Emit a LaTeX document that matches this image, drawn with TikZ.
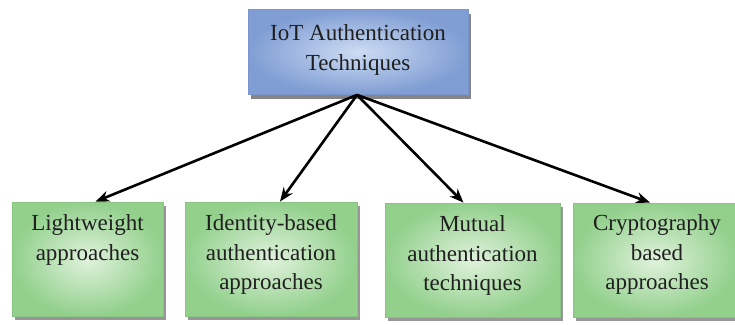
\documentclass[tikz,border=0pt]{standalone}
\usepackage{fontspec}
\setmainfont{Liberation Serif}
\usetikzlibrary{shadows,arrows.meta,calc}

\definecolor{topfill}{RGB}{205,220,242}
\definecolor{topedge}{RGB}{128,158,212}
\definecolor{topframe}{RGB}{120,150,205}
\definecolor{leaffill}{RGB}{224,242,220}
\definecolor{leafedge}{RGB}{146,208,140}
\definecolor{leafframe}{RGB}{135,198,130}

\tikzset{
  rootbox/.style={draw=topframe, line width=0.8pt, shading=radial,
    inner color=topfill, outer color=topedge,
    drop shadow={shadow xshift=3pt, shadow yshift=-4pt, fill=black!60, opacity=0.8},
    minimum width=220pt, minimum height=85pt, inner sep=0pt},
  leafbox/.style={draw=leafframe, line width=0.8pt, shading=radial,
    inner color=leaffill, outer color=leafedge,
    drop shadow={shadow xshift=2.5pt, shadow yshift=-4pt, fill=black!55, opacity=0.75},
    minimum height=114pt, inner sep=0pt},
  boxtext/.style={align=center, font=\fontsize{23}{29.5}\selectfont, text=black!88, inner sep=0pt},
  link/.style={line width=2.6pt, -{Stealth[length=14pt,width=11pt]}}
}

\begin{document}
\begin{tikzpicture}[x=1pt,y=-1pt]
  \useasboundingbox (0,0) rectangle (735,324);

  % root node
  \node[rootbox] (root) at (358,52) {};
  \node[boxtext] (roottxt) at (358,50) {IoT Authentication\\Techniques};

  % leaf boxes
  \node[leafbox, minimum width=151pt] (b1) at (87.5,259) {};
  \node[leafbox, minimum width=172pt] (b2) at (271,259) {};
  \node[leafbox, minimum width=175pt] (b3) at (472.5,260) {};
  \node[leafbox, minimum width=164pt] (b4) at (655,260) {};

  % leaf labels, set from the top of each box
  \node[boxtext, anchor=north] (t1) at ([yshift=-13pt]b1.north) {Lightweight\\approaches};
  \node[boxtext, anchor=north] (t2) at ([yshift=-13pt]b2.north) {Identity-based\\authentication\\approaches};
  \node[boxtext, anchor=north] (t3) at ([yshift=-13pt]b3.north) {Mutual\\authentication\\techniques};
  \node[boxtext, anchor=north] (t4) at ([xshift=2pt,yshift=-12pt]b4.north) {Cryptography\\based\\approaches};

  % fan-out point on the lower edge of the root box
  \coordinate (hub) at ([xshift=-1pt]root.south);
  \coordinate (e1) at ([xshift=8pt]b1.north);
  \coordinate (e2) at ([xshift=9pt]b2.north);
  \coordinate (e3) at ([xshift=-9pt]b3.north);
  \coordinate (e4) at ([xshift=-5pt]b4.north);

  \draw[link] (hub) -- (e1);
  \draw[link] (hub) -- (e2);
  \draw[link] (hub) -- (e3);
  \draw[link] (hub) -- (e4);
\end{tikzpicture}
\end{document}
